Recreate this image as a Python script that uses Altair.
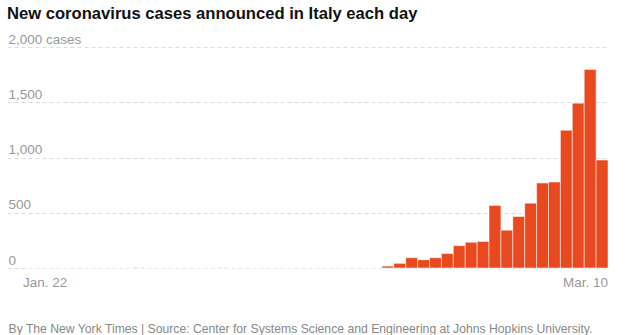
import altair as alt
import pandas as pd

# Daily new cases in Italy, Jan 22 - Mar 10, 2020
dates = [d.strftime("%Y-%m-%d") for d in pd.date_range("2020-01-22", "2020-03-10")]
cases = (
    [0] * 9 + [2] + [0] * 6 + [1] + [0] * 13
    + [17, 42, 93, 74, 93, 131, 202, 233, 240,
       566, 342, 466, 587, 769, 778, 1247, 1492, 1797, 977]
)
y_ticks = [0, 500, 1000, 1500, 2000]
first_label, last_label = "Jan. 22", "Mar. 10"

df = pd.DataFrame({"date": dates, "cases": cases})

FONT = "Liberation Sans, Arial, sans-serif"
FIRST, LAST = dates[0], dates[-1]

chart = (
    alt.Chart(df)
    .mark_bar(color="#e9491e", stroke="white", strokeWidth=1, strokeOpacity=0.5)
    .encode(
        x=alt.X(
            "date:O",
            sort=None,
            scale=alt.Scale(paddingInner=0, paddingOuter=0.756, align=1),
            axis=alt.Axis(
                title="By The New York Times | Source: Center for Systems Science and Engineering at Johns Hopkins University.",
                titleFont=FONT,
                titleFontSize=12.2,
                titleFontWeight="normal",
                titleColor="#888888",
                titleAlign="left",
                titleBaseline="alphabetic",
                titleX=1,
                titleY=64,
                domain=False,
                ticks=False,
                grid=False,
                labelAngle=0,
                labelOverlap=False,
                labelFont=FONT,
                labelFontSize=13.5,
                labelColor="#999999",
                labelPadding=7,
                labelBaseline="top",
                labelExpr=f"datum.value == '{FIRST}' ? '{first_label}' : datum.value == '{LAST}' ? '{last_label}' : ''",
                labelAlign=alt.condition(f"datum.value == '{FIRST}'", alt.value("left"), alt.value("right")),
                labelOffset=alt.condition(f"datum.value == '{FIRST}'", alt.value(-8), alt.value(6)),
            ),
        ),
        y=alt.Y(
            "cases:Q",
            scale=alt.Scale(domain=[0, 2000], nice=False),
            axis=alt.Axis(
                title=None,
                values=y_ticks,
                domain=False,
                ticks=False,
                grid=True,
                gridColor="#dddddd",
                gridDash=[4, 3],
                gridWidth=1,
                labelAlign="left",
                labelBaseline="alphabetic",
                labelPadding=-1,
                labelOffset=-4,
                labelFont=FONT,
                labelFontSize=13.5,
                labelColor="#999999",
                labelExpr="datum.value == 2000 ? '2,000 cases' : format(datum.value, ',')",
            ),
        ),
    )
    .properties(
        width=601,
        height=221,
        background="white",
        autosize=alt.AutoSizeParams(type="none"),
        padding={"left": 7, "top": 47, "right": 18, "bottom": 67},
        title=alt.TitleParams(
            "New coronavirus cases announced in Italy each day",
            anchor="start",
            font=FONT,
            fontSize=16.6,
            fontWeight="bold",
            color="#121212",
            offset=9,
        ),
    )
    .configure_view(strokeWidth=0)
)

chart.save("out.html", embed_options={"renderer": "svg", "actions": False})
